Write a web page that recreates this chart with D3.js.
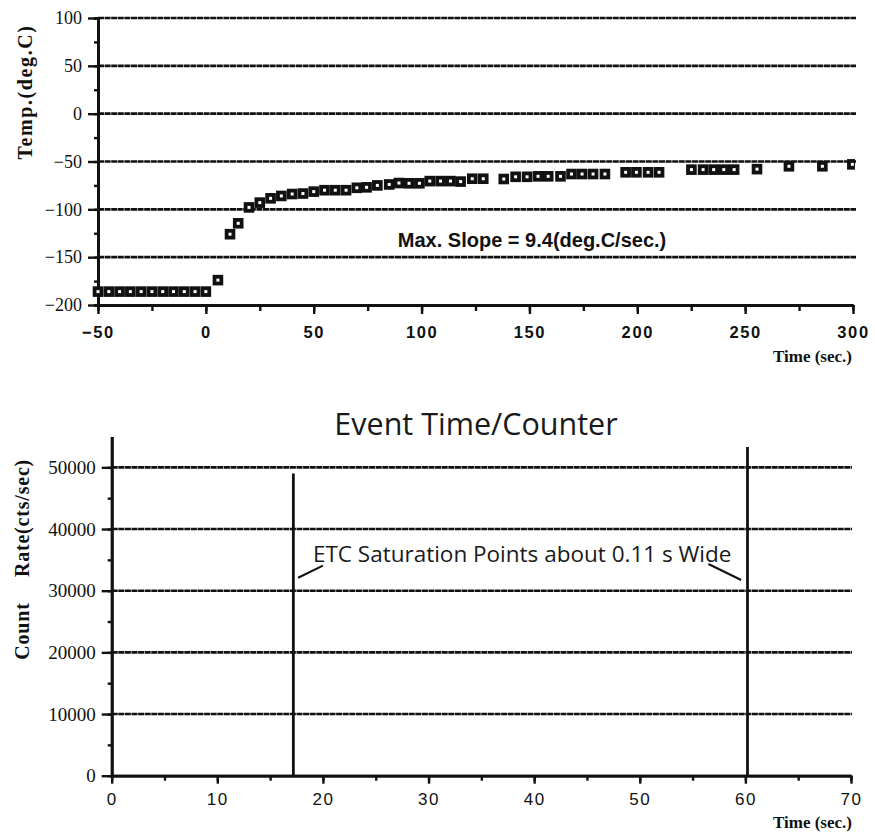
<!DOCTYPE html>
<html>
<head>
<meta charset="utf-8">
<script src="https://cdn.jsdelivr.net/npm/d3@7"></script>
<style>
  body { margin: 0; background: #fff; }
  svg { display: block; }
</style>
</head>
<body>
<svg id="chart" width="875" height="834"></svg>
<script>
// ---- Temperature history (deg.C vs sec.) ----
const tempTimes = [
  -50, -45, -40, -35, -30, -25, -20, -15, -10, -5, 0,
  5.6, 11.2, 15, 20, 25, 30, 35, 40, 45, 50, 55, 60, 65, 70, 74.5, 79.5,
  85, 89.5, 94.2, 99, 103.8, 108.8, 113.4, 118.1, 123.5, 128.6,
  138.1, 143.6, 148.9, 154, 158.7, 164.4, 169.5, 174.4, 179.5, 185,
  194.6, 199.6, 205, 210.1,
  225.1, 230.5, 235.4, 240.1, 244.9,
  255.5, 270.3, 285.8, 299.7
];
const tempValues = [
  -186, -186, -186, -186, -186, -186, -186, -186, -186, -186, -186,
  -174, -126, -114.6, -98, -93, -88.5, -86, -84, -83.5, -81.5, -80, -80, -80, -77.5, -77, -75,
  -74, -72.5, -72.8, -72.8, -70.5, -70.5, -70.5, -71, -68, -68,
  -68.3, -66, -66, -65.5, -65.5, -65.5, -63.1, -63.1, -63.1, -63.1,
  -61.3, -61.3, -61.3, -61.3,
  -58.5, -58.5, -58.5, -58.5, -58.5,
  -58, -55, -55, -53
];
const tempXTicks = [-50, 0, 50, 100, 150, 200, 250, 300];
const tempYTicks = [-200, -150, -100, -50, 0, 50, 100];
const tempGrid = [-150, -100, -50, 0, 50, 100];

// ---- Event Time/Counter rate (cts/sec vs sec.) ----
const spikeTimes = [17.2, 60.2];
const spikeRates = [49000, 53300];
const rateXTicks = [0, 10, 20, 30, 40, 50, 60, 70];
const rateYTicks = [0, 10000, 20000, 30000, 40000, 50000];
const rateGrid = [10000, 20000, 30000, 40000, 50000];

const svg = d3.select("#chart");
const INK = "#111";
const SERIF = "'Liberation Serif', 'Times New Roman', serif";
const SANS = "'Liberation Sans', Arial, sans-serif";
const HUMAN = "'Open Sans', 'Noto Sans', sans-serif";

function styleAxis(g, font, size, weight, spacing) {
  g.select(".domain").attr("stroke", INK).attr("stroke-width", 2.8);
  g.selectAll(".tick line").attr("stroke", INK).attr("stroke-width", 2.4);
  g.selectAll(".tick text")
    .attr("fill", INK)
    .style("font-family", font)
    .style("font-size", size + "px")
    .style("font-weight", weight)
    .style("letter-spacing", spacing + "px");
}

function gridLines(g, values, x0, x1, y) {
  g.selectAll("line.grid").data(values).join("line")
    .attr("class", "grid")
    .attr("x1", x0).attr("x2", x1)
    .attr("y1", d => y(d)).attr("y2", d => y(d))
    .attr("stroke", INK).attr("stroke-width", 2.6)
    .attr("stroke-dasharray", "6,0.6");
}

// ================= Temperature panel =================
{
  const x = d3.scaleLinear().domain([-50, 300]).range([98, 853]);
  const y = d3.scaleLinear().domain([-200, 100]).range([305, 18]);
  const g = svg.append("g");

  gridLines(g, tempGrid, x(-50), x(300) + 3, y);

  // minor ticks every 25
  g.append("g").attr("transform", `translate(${x(-50)},0)`)
    .call(d3.axisLeft(y).tickValues(d3.range(-200, 101, 25)).tickSize(4).tickFormat(""))
    .call(a => styleAxis(a, SERIF, 18, "normal", 0));
  g.append("g").attr("transform", `translate(0,${y(-200)})`)
    .call(d3.axisBottom(x).tickValues(d3.range(-50, 301, 25)).tickSize(6).tickSizeOuter(0).tickFormat(""))
    .call(a => styleAxis(a, SANS, 16, "bold", 1.5));

  // labelled major ticks
  g.append("g").attr("transform", `translate(${x(-50)},0)`)
    .call(d3.axisLeft(y).tickValues(tempYTicks).tickSize(10).tickPadding(6).tickSizeOuter(0).tickFormat(d3.format("d")))
    .call(a => styleAxis(a, SERIF, 18, "normal", 0));
  g.append("g").attr("transform", `translate(0,${y(-200)})`)
    .call(d3.axisBottom(x).tickValues(tempXTicks).tickSize(9).tickPadding(12).tickSizeOuter(0).tickFormat(d3.format("d")))
    .call(a => styleAxis(a, SANS, 16.5, "bold", 1.6));

  // data markers: open squares with heavy outline
  svg.append("clipPath").attr("id", "tclip")
    .append("rect").attr("x", x(-50) - 10).attr("y", 0).attr("width", x(300) - x(-50) + 12).attr("height", 340);
  const pts = tempTimes.map((t, i) => ({ t, v: tempValues[i] }));
  g.append("g").attr("clip-path", "url(#tclip)")
    .selectAll("rect").data(pts).join("rect")
    .attr("x", d => x(d.t) - 3.4).attr("y", d => y(d.v) - 3.4)
    .attr("width", 6.8).attr("height", 6.8)
    .attr("fill", "#fff").attr("stroke", INK).attr("stroke-width", 3.8);

  g.append("text")
    .attr("x", x(89)).attr("y", y(-139))
    .attr("fill", INK)
    .style("font-family", SANS).style("font-weight", "bold").style("font-size", "20px")
    .text("Max. Slope = 9.4(deg.C/sec.)");

  g.append("text")
    .attr("transform", `translate(25,92) rotate(-90)`)
    .attr("text-anchor", "middle").attr("dominant-baseline", "central")
    .attr("fill", INK)
    .style("font-family", SERIF).style("font-weight", "bold").style("font-size", "20px")
    .style("letter-spacing", "1.6px")
    .text("Temp.(deg.C)");

  g.append("text")
    .attr("x", 852).attr("y", 362)
    .attr("text-anchor", "end").attr("fill", INK)
    .style("font-family", SERIF).style("font-weight", "bold").style("font-size", "17px")
    .text("Time (sec.)");
}

// ================= Event Time/Counter panel =================
{
  const x = d3.scaleLinear().domain([0, 70]).range([111.7, 851]);
  const y = d3.scaleLinear().domain([0, 55000]).range([775.7, 436.5]);
  const g = svg.append("g");

  svg.append("text")
    .attr("x", 476).attr("y", 435)
    .attr("text-anchor", "middle").attr("fill", "#1a1a1a")
    .style("font-family", HUMAN).style("font-size", "30.5px")
    .text("Event Time/Counter");

  gridLines(g, rateGrid, x(0), x(70) + 1, y);

  g.append("g").attr("transform", `translate(${x(0)},0)`)
    .call(d3.axisLeft(y).tickValues(d3.range(0, 50001, 5000)).tickSize(4).tickSizeOuter(0).tickFormat(""))
    .call(a => styleAxis(a, SERIF, 19, "normal", 0));
  g.append("g").attr("transform", `translate(0,${y(0)})`)
    .call(d3.axisBottom(x).tickValues(d3.range(0, 71, 5)).tickSize(5).tickSizeOuter(0).tickFormat(""))
    .call(a => styleAxis(a, SANS, 16, "normal", 1.5));

  g.append("g").attr("transform", `translate(${x(0)},0)`)
    .call(d3.axisLeft(y).tickValues(rateYTicks).tickSize(10).tickPadding(6).tickSizeOuter(0).tickFormat(d3.format("d")))
    .call(a => styleAxis(a, SERIF, 19, "normal", 0));
  g.append("g").attr("transform", `translate(0,${y(0)})`)
    .call(d3.axisBottom(x).tickValues(rateXTicks).tickSize(8).tickPadding(9).tickSizeOuter(0).tickFormat(d3.format("d")))
    .call(a => styleAxis(a, SANS, 17, "normal", 1.5));

  // saturation spikes
  const spikes = spikeTimes.map((t, i) => ({ t, r: spikeRates[i] }));
  g.selectAll("line.spike").data(spikes).join("line")
    .attr("class", "spike")
    .attr("x1", d => x(d.t)).attr("x2", d => x(d.t))
    .attr("y1", y(0)).attr("y2", d => y(d.r))
    .attr("stroke", INK).attr("stroke-width", 2.8);

  // annotation and leaders to each spike
  g.append("text")
    .attr("x", x(19.05)).attr("y", y(34700))
    .attr("fill", "#1a1a1a")
    .style("font-family", HUMAN).style("font-size", "22.5px")
    .text("ETC Saturation Points about 0.11 s Wide");
  const leaders = [
    { x1: x(17.65), y1: y(32100), x2: x(20.0), y2: y(34050) },
    { x1: x(56.5), y1: y(34330), x2: x(59.6), y2: y(31730) }
  ];
  g.selectAll("line.leader").data(leaders).join("line")
    .attr("class", "leader")
    .attr("x1", d => d.x1).attr("y1", d => d.y1)
    .attr("x2", d => d.x2).attr("y2", d => d.y2)
    .attr("stroke", INK).attr("stroke-width", 2);

  const yLabel = [
    { text: "Count", cy: 631 },
    { text: "Rate(cts/sec)", cy: 518 }
  ];
  g.selectAll("text.ylab").data(yLabel).join("text")
    .attr("class", "ylab")
    .attr("transform", d => `translate(22,${d.cy}) rotate(-90)`)
    .attr("text-anchor", "middle").attr("dominant-baseline", "central")
    .attr("fill", INK)
    .style("font-family", SERIF).style("font-weight", "bold").style("font-size", "20px")
    .style("letter-spacing", "0.8px")
    .text(d => d.text);

  g.append("text")
    .attr("x", 852).attr("y", 828)
    .attr("text-anchor", "end").attr("fill", INK)
    .style("font-family", SERIF).style("font-weight", "bold").style("font-size", "17px")
    .text("Time (sec.)");
}
</script>
</body>
</html>
